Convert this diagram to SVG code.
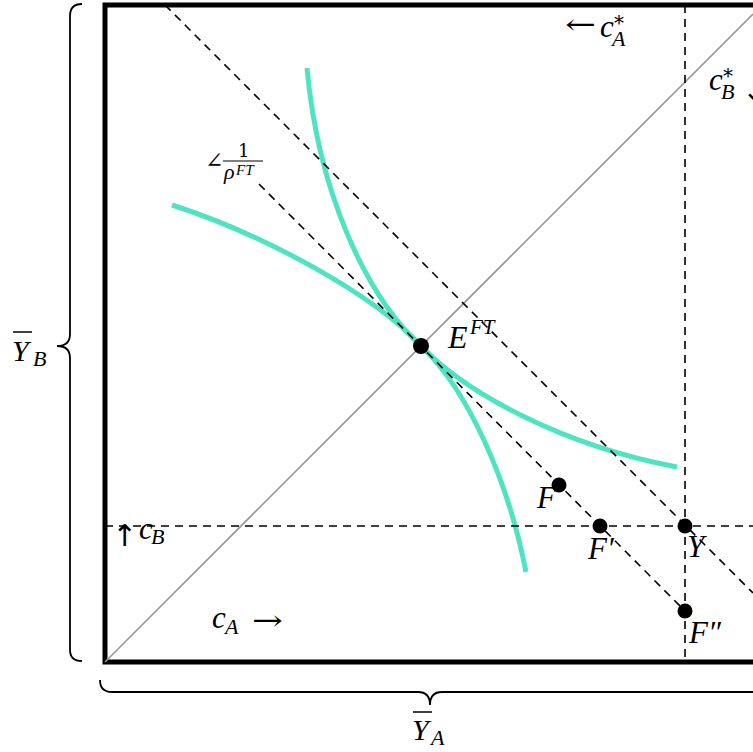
<svg xmlns="http://www.w3.org/2000/svg" width="753" height="752" viewBox="0 0 753 752">
<style>
.dash{stroke:#000;stroke-width:1.6;stroke-dasharray:8 6;fill:none}
.curve{stroke:#50e3c2;stroke-width:5;fill:none;stroke-linecap:butt}
.dot{fill:#000}
.m{font-family:"Liberation Serif","DejaVu Serif",serif;font-style:italic;fill:#000}
.r{font-family:"DejaVu Serif","Liberation Serif",serif;fill:#000}
.a{font-family:"DejaVu Sans","Liberation Sans",sans-serif;fill:#000}
.up{font-style:normal;font-family:"DejaVu Serif","Liberation Serif",serif}
.brace{stroke:#000;stroke-width:1.8;fill:none}
</style>
<rect width="753" height="752" fill="#fff"/>
<g id="box">
<rect x="105" y="5" width="700" height="657" fill="none" stroke="#000" stroke-width="5"/>
<line x1="105" y1="662" x2="753" y2="14" stroke="#999" stroke-width="1.6"/>
</g>
<g id="curves">
<path class="curve" d="M307,68 C318,190 365,295 421,346 C468,390 508,480 526,572"/>
<path class="curve" d="M172,205 C265,235 375,295 421,346 C465,392 560,445 677,467"/>
</g>
<g id="connectors">
<line class="dash" x1="685" y1="5" x2="685" y2="662"/>
<line class="dash" x1="105" y1="526" x2="753" y2="526"/>
<line class="dash" x1="165" y1="5" x2="753" y2="593"/>
<line class="dash" x1="259" y1="184" x2="685" y2="611"/>
</g>
<g id="E"><circle class="dot" cx="421" cy="346" r="8"/>
<text class="m" x="448" y="348" font-size="32">E<tspan x="470" y="334" font-size="21">FT</tspan></text></g>
<g id="F"><circle class="dot" cx="559" cy="485" r="7.5"/><text class="m" x="537" y="508" font-size="31">F</text></g>
<g id="F1"><circle class="dot" cx="600" cy="526" r="7.5"/><text class="m" x="588" y="559" font-size="31">F′</text></g>
<g id="Y"><circle class="dot" cx="685" cy="526" r="7.5"/><text class="m" x="687" y="557" font-size="31">Y</text></g>
<g id="F2"><circle class="dot" cx="685" cy="611" r="7.5"/><text class="m" x="689" y="643" font-size="31">F″</text></g>
<g id="slope">
<text class="r" x="205" y="168" font-size="22">∠</text>
<text class="r" x="238" y="157" font-size="18">1</text>
<line x1="223" y1="161" x2="263" y2="161" stroke="#000" stroke-width="1"/>
<text class="m" x="224" y="179" font-size="22">ρ<tspan x="236" y="175" font-size="15">FT</tspan></text>
</g>
<g id="cAstar">
<text class="r" x="565" y="34" font-size="28" textLength="31" lengthAdjust="spacingAndGlyphs">←</text>
<text class="m" x="600" y="37" font-size="31">c<tspan class="up" x="614" y="30" font-size="20">*</tspan><tspan x="612" y="46" font-size="22">A</tspan></text>
</g>
<g id="cBstar">
<text class="m" x="709" y="90" font-size="31">c<tspan class="up" x="723" y="83" font-size="20">*</tspan><tspan x="721" y="99" font-size="22">B</tspan></text>
<text class="a" x="742" y="101" font-size="30">↓</text>
</g>
<g id="cB">
<text class="a" x="112" y="546" font-size="30">↑</text>
<text class="m" x="139" y="539" font-size="31">c<tspan x="151" y="544" font-size="22">B</tspan></text>
</g>
<g id="cA">
<text class="m" x="212" y="628" font-size="31">c<tspan x="225" y="634" font-size="22">A</tspan></text>
<text class="r" x="252" y="630" font-size="28" textLength="31" lengthAdjust="spacingAndGlyphs">→</text>
</g>
<g id="YB">
<path class="brace" d="M82,4 Q70,4 70,16 L70,334 Q70,346 57,346 Q70,346 70,358 L70,650 Q70,661 82,661"/>
<line x1="13" y1="332" x2="32" y2="332" stroke="#000" stroke-width="1.5"/>
<text class="m" x="12" y="361" font-size="30">Y<tspan x="33" y="366" font-size="22">B</tspan></text>
</g>
<g id="YA">
<path class="brace" d="M100,680 Q100,692 112,692 L418,692 Q430,692 430,705 Q430,692 442,692 L753,692"/>
<line x1="413" y1="712" x2="432" y2="712" stroke="#000" stroke-width="1.5"/>
<text class="m" x="412" y="740" font-size="30">Y<tspan x="431" y="745" font-size="22">A</tspan></text>
</g>
</svg>
